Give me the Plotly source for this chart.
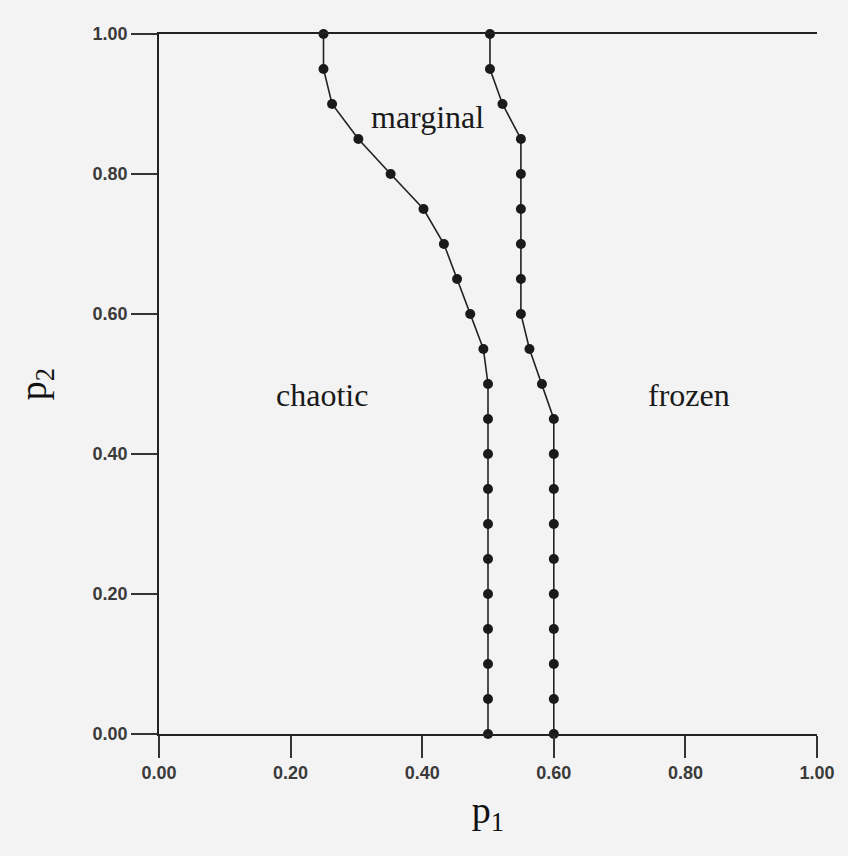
import plotly.graph_objects as go

p2_vals = [1.00, 0.95, 0.90, 0.85, 0.80, 0.75, 0.70, 0.65, 0.60, 0.55, 0.50,
           0.45, 0.40, 0.35, 0.30, 0.25, 0.20, 0.15, 0.10, 0.05, 0.00]
chaotic_p1 = [0.25, 0.25, 0.263, 0.303, 0.352, 0.402, 0.433, 0.453, 0.473, 0.493, 0.50,
              0.50, 0.50, 0.50, 0.50, 0.50, 0.50, 0.50, 0.50, 0.50, 0.50]
frozen_p1 = [0.503, 0.503, 0.522, 0.55, 0.55, 0.55, 0.55, 0.55, 0.55, 0.563, 0.582,
             0.60, 0.60, 0.60, 0.60, 0.60, 0.60, 0.60, 0.60, 0.60, 0.60]
tick_vals = [0.0, 0.2, 0.4, 0.6, 0.8, 1.0]
tick_text = ["0.00", "0.20", "0.40", "0.60", "0.80", "1.00"]

fig = go.Figure()
for xs in (chaotic_p1, frozen_p1):
    fig.add_trace(go.Scatter(
        x=xs, y=p2_vals, mode="lines+markers",
        line=dict(color="#222222", width=1.6),
        marker=dict(color="#1a1a1a", size=10),
        showlegend=False, cliponaxis=False))

serif = "Liberation Serif"
sans = "Liberation Sans"
for txt, x, y in [("marginal", 0.408, 0.882), ("chaotic", 0.248, 0.484), ("frozen", 0.806, 0.484)]:
    fig.add_annotation(x=x, y=y, text=txt, showarrow=False,
                       font=dict(family=serif, size=32, color="#1a1a1a"))

fig.update_layout(
    width=848, height=856,
    margin=dict(l=159, r=31, t=34, b=122),
    paper_bgcolor="#f3f3f3", plot_bgcolor="#f3f3f3",
    xaxis=dict(range=[0, 1], tickvals=tick_vals, ticktext=tick_text,
               showgrid=False, zeroline=False, showline=True, linecolor="#222",
               linewidth=1.5, mirror=True, ticks="outside", ticklen=22,
               tickwidth=1.5, tickcolor="#333",
               tickfont=dict(family=sans, size=18, color="#3a3a3a", weight="bold"),
               title=dict(text="p<sub>1</sub>", standoff=14,
                          font=dict(family=serif, size=38, color="#111"))),
    yaxis=dict(range=[0, 1], tickvals=tick_vals, ticktext=tick_text,
               showgrid=False, zeroline=False, showline=True, linecolor="#222",
               linewidth=1.5, ticks="outside", ticklen=26,
               tickwidth=1.5, tickcolor="#333",
               tickfont=dict(family=sans, size=18, color="#3a3a3a", weight="bold"),
               title=dict(text="p<sub>2</sub>", standoff=34,
                          font=dict(family=serif, size=38, color="#111"))),
)
fig.write_html("out.html")
